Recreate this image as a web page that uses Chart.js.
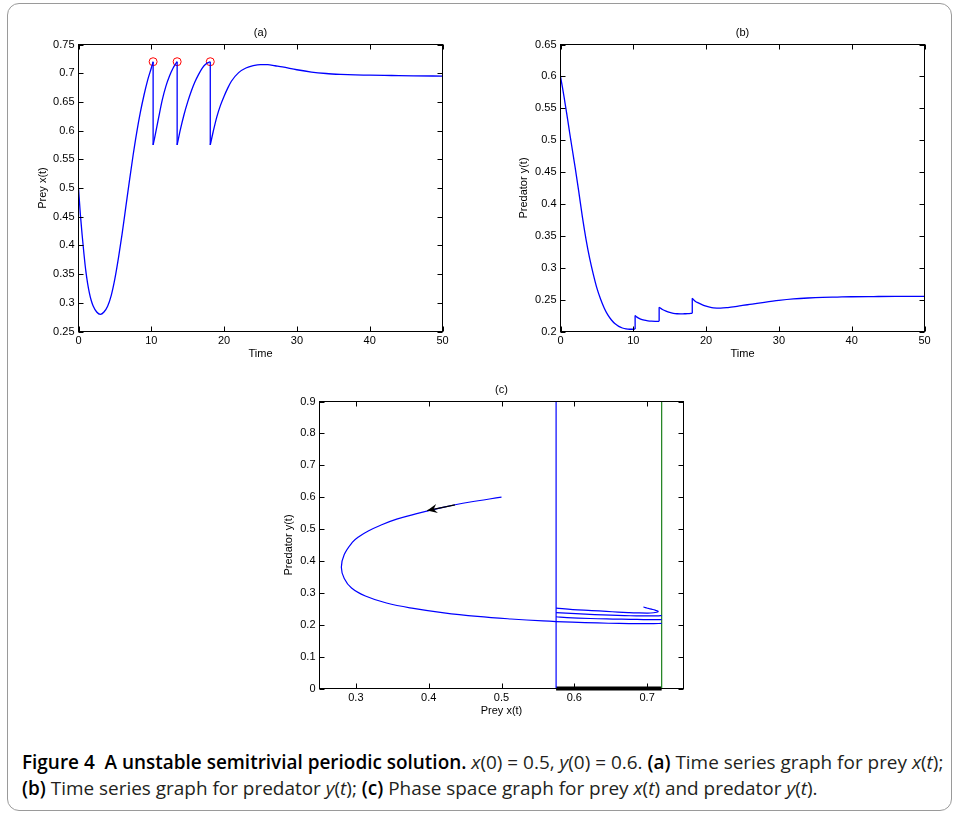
<!DOCTYPE html>
<html>
<head>
<meta charset="utf-8">
<script src="https://cdn.jsdelivr.net/npm/chart.js@4.4.1/dist/chart.umd.min.js"></script>
<style>
  body { margin: 0; background: #fff; width: 956px; height: 814px; overflow: hidden; position: relative; }
  .frame { position: absolute; left: 7px; top: 3px; width: 943px; height: 806px; border: 1px solid #9a9a9a; border-radius: 12px; }
  canvas { position: absolute; }
  #caption { position: absolute; left: 22px; top: 749px; font-family: "Open Sans", "Noto Sans", sans-serif; font-size: 16px; line-height: 26px; color: #231f20; white-space: nowrap; }
  #caption b { color: #000; font-weight: 600; }
</style>
</head>
<body>
<div class="frame"></div>
<canvas id="chartA" width="460" height="341" style="left:0;top:20px"></canvas>
<canvas id="chartB" width="460" height="341" style="left:480px;top:20px"></canvas>
<canvas id="chartC" width="460" height="348" style="left:240px;top:370px"></canvas>
<div id="caption"><span id="line1"><b>Figure 4&nbsp; A unstable semitrivial periodic solution.</b> <i>x</i>(0) = 0.5, <i>y</i>(0) = 0.6. <b>(a)</b> Time series graph for prey <i>x</i>(<i>t</i>);</span><br><b>(b)</b> Time series graph for predator <i>y</i>(<i>t</i>); <b>(c)</b> Phase space graph for prey <i>x</i>(<i>t</i>) and predator <i>y</i>(<i>t</i>).</div>
<script>
// solution pieces between the impulses
const time1 = [0, 0.25, 0.5, 0.75, 1, 1.25, 1.5, 1.75, 2, 2.5, 3, 3.5, 4, 4.5, 5, 5.5, 6, 6.5, 7, 7.5, 8, 8.5, 9, 9.5, 10, 10.25];
const prey1 = [0.5, 0.455, 0.418, 0.385, 0.356, 0.334, 0.317, 0.304, 0.295, 0.284, 0.28, 0.284, 0.294, 0.313, 0.342, 0.379, 0.421, 0.467, 0.513, 0.557, 0.597, 0.632, 0.662, 0.688, 0.709, 0.72];
const predator1 = [0.6, 0.584, 0.567, 0.549, 0.531, 0.512, 0.494, 0.476, 0.458, 0.42, 0.38, 0.345, 0.315, 0.29, 0.268, 0.251, 0.237, 0.226, 0.218, 0.212, 0.208, 0.2055, 0.204, 0.2035, 0.2035, 0.204];

const time2 = [10.25, 10.5, 11, 11.5, 12, 12.5, 13, 13.55];
const prey2 = [0.575, 0.59, 0.622, 0.653, 0.677, 0.695, 0.709, 0.72];
const predator2 = [0.225, 0.2225, 0.2195, 0.2178, 0.2168, 0.2162, 0.216, 0.216];

const time3 = [13.55, 14, 14.5, 15, 15.5, 16, 16.5, 17, 17.5, 18.1];
const prey3 = [0.575, 0.602, 0.628, 0.65, 0.669, 0.685, 0.698, 0.709, 0.716, 0.72];
const predator3 = [0.238, 0.2345, 0.2318, 0.2298, 0.2285, 0.2278, 0.2276, 0.2278, 0.228, 0.2285];

const time4 = [18.1, 18.5, 19, 19.5, 20, 20.5, 21, 22, 23, 24, 25, 26, 27, 28, 30, 32, 34, 36, 38, 40, 43, 46, 50];
const prey4 = [0.575, 0.598, 0.624, 0.644, 0.66, 0.674, 0.686, 0.701, 0.709, 0.713, 0.715, 0.715, 0.713, 0.711, 0.706, 0.702, 0.6995, 0.698, 0.697, 0.6965, 0.696, 0.6955, 0.695];
const predator4 = [0.252, 0.2475, 0.2445, 0.2418, 0.2397, 0.2382, 0.2372, 0.2366, 0.2375, 0.239, 0.2408, 0.2425, 0.2442, 0.2458, 0.2487, 0.251, 0.2525, 0.2535, 0.254, 0.2545, 0.2548, 0.255, 0.255];

// thresholds drawn in (c) and the direction arrow
const lowerPrey = 0.575;
const upperPrey = 0.72;
const arrowX = [0.436, 0.398];
const arrowY = [0.576, 0.558];

// tick values
const timeTicks = [0, 10, 20, 30, 40, 50];
const preyTicks = [0.25, 0.3, 0.35, 0.4, 0.45, 0.5, 0.55, 0.6, 0.65, 0.7, 0.75];
const predatorTicks = [0.2, 0.25, 0.3, 0.35, 0.4, 0.45, 0.5, 0.55, 0.6, 0.65];
const phaseXTicks = [0.3, 0.4, 0.5, 0.6, 0.7];
const phaseYTicks = [0, 0.1, 0.2, 0.3, 0.4, 0.5, 0.6, 0.7, 0.8, 0.9];

const times = [time1, time2, time3, time4];
const preys = [prey1, prey2, prey3, prey4];
const predators = [predator1, predator2, predator3, predator4];

const BLUE = '#0000ff';
const FONT = '"Liberation Sans", Arial, sans-serif';
const tickFont = { family: FONT, size: 11 };

// stretch the caption so its first line spans the frame like the original
const line1 = document.getElementById('line1');
const cap = document.getElementById('caption');
cap.style.fontSize = (16 * 922 / line1.getBoundingClientRect().width).toFixed(2) + 'px';

// matlab style box with inward ticks on all four sides
const boxTicks = {
  id: 'boxTicks',
  afterDraw(chart) {
    const { ctx, chartArea: a, scales: { x, y } } = chart;
    ctx.save();
    ctx.strokeStyle = '#000';
    ctx.lineWidth = 1;
    ctx.beginPath();
    x.ticks.forEach(t => {
      const px = Math.round(x.getPixelForValue(t.value)) + 0.5;
      ctx.moveTo(px, a.bottom); ctx.lineTo(px, a.bottom - 5);
      ctx.moveTo(px, a.top); ctx.lineTo(px, a.top + 5);
    });
    y.ticks.forEach(t => {
      const py = Math.round(y.getPixelForValue(t.value)) + 0.5;
      ctx.moveTo(a.left, py); ctx.lineTo(a.left + 5, py);
      ctx.moveTo(a.right, py); ctx.lineTo(a.right - 5, py);
    });
    ctx.stroke();
    ctx.strokeRect(a.left, a.top, a.right - a.left, a.bottom - a.top);
    ctx.restore();
  }
};

const arrowPlugin = {
  id: 'arrow',
  afterDatasetsDraw(chart) {
    const { ctx, scales: { x, y } } = chart;
    const x0 = x.getPixelForValue(arrowX[0]), y0 = y.getPixelForValue(arrowY[0]);
    const x1 = x.getPixelForValue(arrowX[1]), y1 = y.getPixelForValue(arrowY[1]);
    const ang = Math.atan2(y1 - y0, x1 - x0);
    ctx.save();
    ctx.strokeStyle = '#000';
    ctx.fillStyle = '#000';
    ctx.lineWidth = 1.3;
    ctx.beginPath();
    ctx.moveTo(x0, y0); ctx.lineTo(x1, y1);
    ctx.stroke();
    ctx.translate(x1, y1);
    ctx.rotate(ang);
    ctx.beginPath();
    ctx.moveTo(0, 0);
    ctx.lineTo(-10, -4.5);
    ctx.lineTo(-6.5, 0);
    ctx.lineTo(-10, 4.5);
    ctx.closePath();
    ctx.fill();
    ctx.restore();
  }
};

function axis(min, max, ticks, label, horizontal, size, titlePad) {
  return {
    type: 'linear',
    min: min,
    max: max,
    grid: { display: false, drawTicks: false },
    border: { display: false },
    ticks: {
      autoSkip: false,
      maxRotation: 0,
      padding: horizontal ? 3 : 4,
      color: '#000',
      font: tickFont,
      callback: v => String(+v.toFixed(3))
    },
    afterBuildTicks: s => { s.ticks = ticks.map(v => ({ value: v })); },
    afterFit: s => { if (horizontal) s.height = size; else s.width = size; },
    title: {
      display: true,
      text: label,
      color: '#000',
      font: { family: FONT, size: 11 },
      padding: horizontal ? { top: 0, bottom: 0 } : { top: titlePad, bottom: 0 }
    }
  };
}

function baseOptions(title, titlePad, padRight, xAxis, yAxis) {
  return {
    responsive: false,
    animation: false,
    events: [],
    layout: { padding: { left: 0, right: padRight, top: 0, bottom: 0.5 } },
    plugins: {
      legend: { display: false },
      tooltip: { enabled: false },
      title: {
        display: true,
        text: title,
        fullSize: false,
        color: '#000',
        font: { family: FONT, size: 11, weight: 'normal' },
        padding: titlePad
      }
    },
    scales: { x: xAxis, y: yAxis }
  };
}

function line(points, color, width, extra) {
  return Object.assign({
    data: points,
    showLine: true,
    borderColor: color,
    borderWidth: width,
    pointRadius: 0,
    fill: false
  }, extra || {});
}

// time series datasets: smooth pieces plus vertical jumps
function seriesSets(values) {
  const sets = [];
  times.forEach((ts, k) => {
    sets.push(line(ts.map((t, i) => ({ x: t, y: values[k][i] })), BLUE, 1.3, { cubicInterpolationMode: 'monotone' }));
    if (k < times.length - 1) {
      const tEnd = ts[ts.length - 1];
      sets.push(line([{ x: tEnd, y: values[k][values[k].length - 1] }, { x: times[k + 1][0], y: values[k + 1][0] }], BLUE, 1.3));
    }
  });
  return sets;
}

// (a) prey
const setsA = seriesSets(preys);
setsA.push({
  data: times.slice(0, 3).map((ts, k) => ({ x: ts[ts.length - 1], y: preys[k][preys[k].length - 1] })),
  showLine: false,
  pointRadius: 4,
  pointBorderColor: '#ff0000',
  pointBackgroundColor: 'rgba(0,0,0,0)',
  pointBorderWidth: 1,
  clip: false
});
new Chart(document.getElementById('chartA'), {
  type: 'scatter',
  data: { datasets: setsA },
  options: baseOptions('(a)', { top: 6, bottom: 5.3 }, 17.5,
    axis(0, 50, timeTicks, 'Time', true, 29),
    axis(0.25, 0.75, preyTicks, 'Prey x(t)', false, 78.5, 36)),
  plugins: [boxTicks]
});

// (b) predator
new Chart(document.getElementById('chartB'), {
  type: 'scatter',
  data: { datasets: seriesSets(predators) },
  options: baseOptions('(b)', { top: 6, bottom: 5.3 }, 15.5,
    axis(0, 50, timeTicks, 'Time', true, 29),
    axis(0.2, 0.65, predatorTicks, 'Predator y(t)', false, 80.5, 37.4)),
  plugins: [boxTicks]
});

// (c) phase plane
const setsC = times.map((ts, k) =>
  line(ts.map((t, i) => ({ x: preys[k][i], y: predators[k][i] })), BLUE, 1.2, { tension: 0.4 }));
setsC.push(line([{ x: lowerPrey, y: 0 }, { x: lowerPrey, y: 0.9 }], BLUE, 1.2));
setsC.push(line([{ x: upperPrey, y: 0 }, { x: upperPrey, y: 0.9 }], '#1a7f1a', 1.2));
setsC.push(line([{ x: lowerPrey, y: 0 }, { x: upperPrey, y: 0 }], '#000', 4, { clip: false, borderCapStyle: 'butt' }));
new Chart(document.getElementById('chartC'), {
  type: 'scatter',
  data: { datasets: setsC },
  options: baseOptions('(c)', { top: 13, bottom: 5.3 }, 16.5,
    axis(0.25, 0.75, phaseXTicks, 'Prey x(t)', true, 29),
    axis(0, 0.9, phaseYTicks, 'Predator y(t)', false, 79.5, 42.7)),
  plugins: [boxTicks, arrowPlugin]
});
</script>
</body>
</html>
